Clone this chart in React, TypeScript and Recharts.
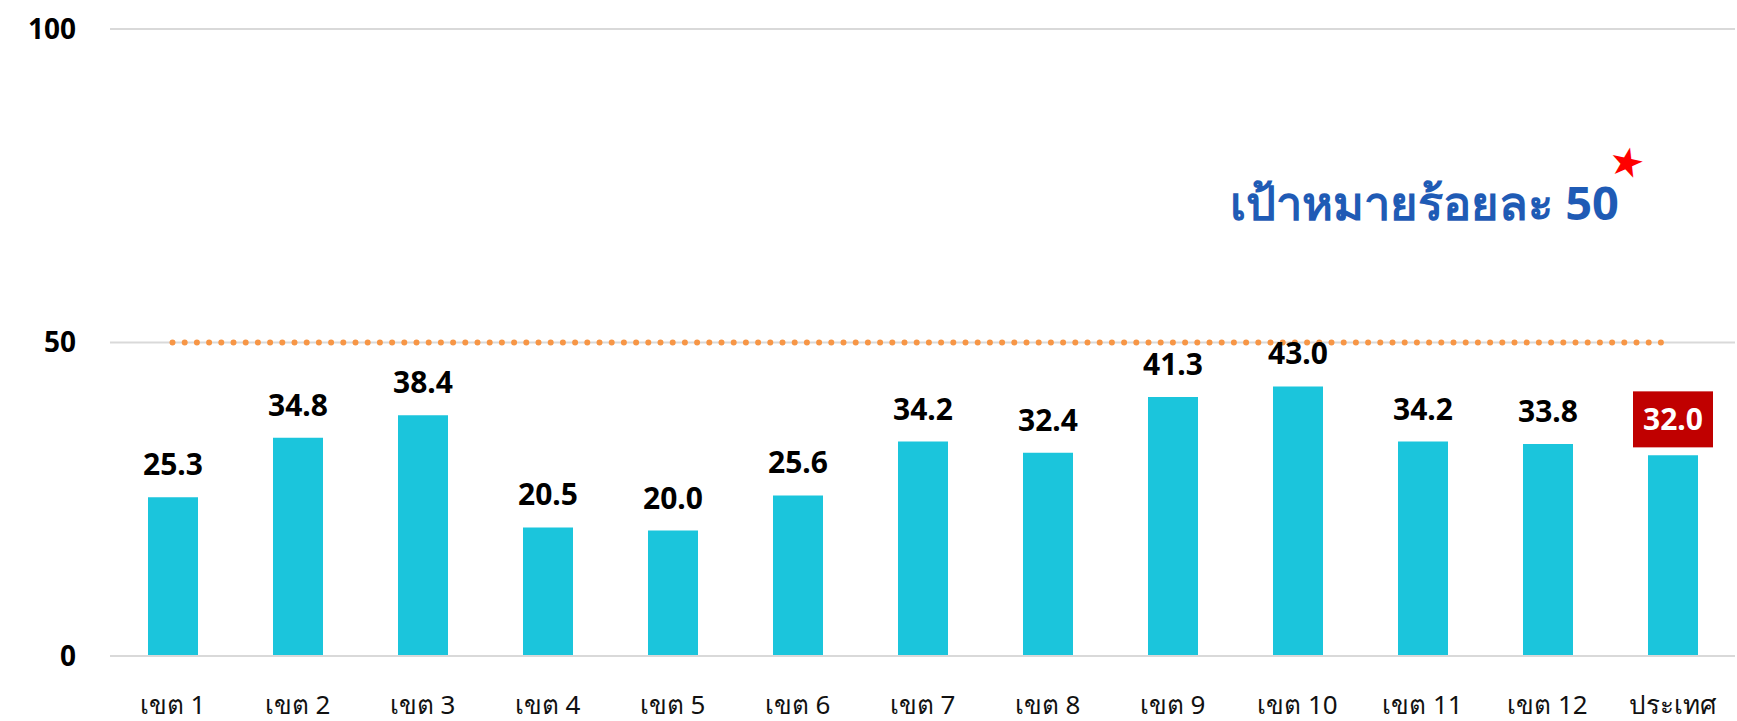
import React from "react";
import { BarChart, Bar, XAxis, YAxis, CartesianGrid, LabelList, ReferenceLine } from "recharts";

const categories = ["เขต 1", "เขต 2", "เขต 3", "เขต 4", "เขต 5", "เขต 6", "เขต 7", "เขต 8", "เขต 9", "เขต 10", "เขต 11", "เขต 12", "ประเทศ"];
const values = [25.3, 34.8, 38.4, 20.5, 20.0, 25.6, 34.2, 32.4, 41.3, 43.0, 34.2, 33.8, 32.0];
const yTicks = [0, 50, 100];
const targetValue = 50;
const targetTitle = "เป้าหมายร้อยละ 50";
const highlightCategory = "ประเทศ";

const data = categories.map((name, i) => ({ name, value: values[i] }));

const FONT = "'Noto Sans', 'DejaVu Sans', sans-serif";

const ValueLabel = (props: any) => {
  const { x, y, width, value, index } = props;
  const cx = x + width / 2;
  const text = Number(value).toFixed(1);
  if (categories[index] === highlightCategory) {
    const boxH = 56;
    const boxW = 80;
    const bottom = y - 8;
    return (
      <g>
        <rect x={cx - boxW / 2} y={bottom - boxH} width={boxW} height={boxH} fill="#C00000" />
        <text x={cx} y={bottom - boxH / 2 + 11} textAnchor="middle" fill="#ffffff" fontSize={30} fontWeight={700} fontFamily={FONT}>
          {text}
        </text>
      </g>
    );
  }
  return (
    <text x={cx} y={y - 22} textAnchor="middle" fill="#000000" fontSize={30} fontWeight={700} fontFamily={FONT}>
      {text}
    </text>
  );
};

export default function App() {
  return (
    <div style={{ position: "absolute", left: 0, top: 0, width: 1737, height: 721, background: "#fff" }}>
      <BarChart
        width={1737}
        height={721}
        data={data}
        margin={{ top: 29, right: 2, left: 0, bottom: 0 }}
        barCategoryGap={0}
      >
        <CartesianGrid vertical={false} stroke="#d9d9d9" strokeWidth={2} />
        <XAxis
          dataKey="name"
          height={65}
          axisLine={{ stroke: "#d9d9d9", strokeWidth: 2 }}
          tickLine={false}
          tickMargin={34}
          interval={0}
          tick={{ fill: "#111", fontSize: 26, fontFamily: FONT }}
        />
        <YAxis
          width={110}
          domain={[0, 100]}
          ticks={yTicks}
          axisLine={false}
          tickLine={false}
          tickMargin={28}
          tick={{ fill: "#000", fontSize: 28, fontWeight: 700, fontFamily: FONT }}
        />
        <ReferenceLine
          segment={[
            { x: categories[0], y: targetValue },
            { x: categories[categories.length - 1], y: targetValue },
          ]}
          stroke="#F79646"
          strokeWidth={6}
          strokeLinecap="round"
          strokeDasharray="0 12.2"
          ifOverflow="extendDomain"
        />
        <Bar dataKey="value" fill="#1BC5DC" barSize={50} isAnimationActive={false}>
          <LabelList dataKey="value" content={<ValueLabel />} />
        </Bar>
      </BarChart>
      <svg width={1737} height={721} style={{ position: "absolute", left: 0, top: 0, pointerEvents: "none" }}>
        <text x={1619} y={220} textAnchor="end" fill="#1F5BB5" fontSize={47} fontWeight={700} fontFamily={FONT}>
          {targetTitle}
        </text>
        <text x={1627} y={176} textAnchor="middle" fill="#FF0000" fontSize={40} fontFamily={FONT} transform="rotate(12 1627 162)">
          ★
        </text>
      </svg>
    </div>
  );
}
